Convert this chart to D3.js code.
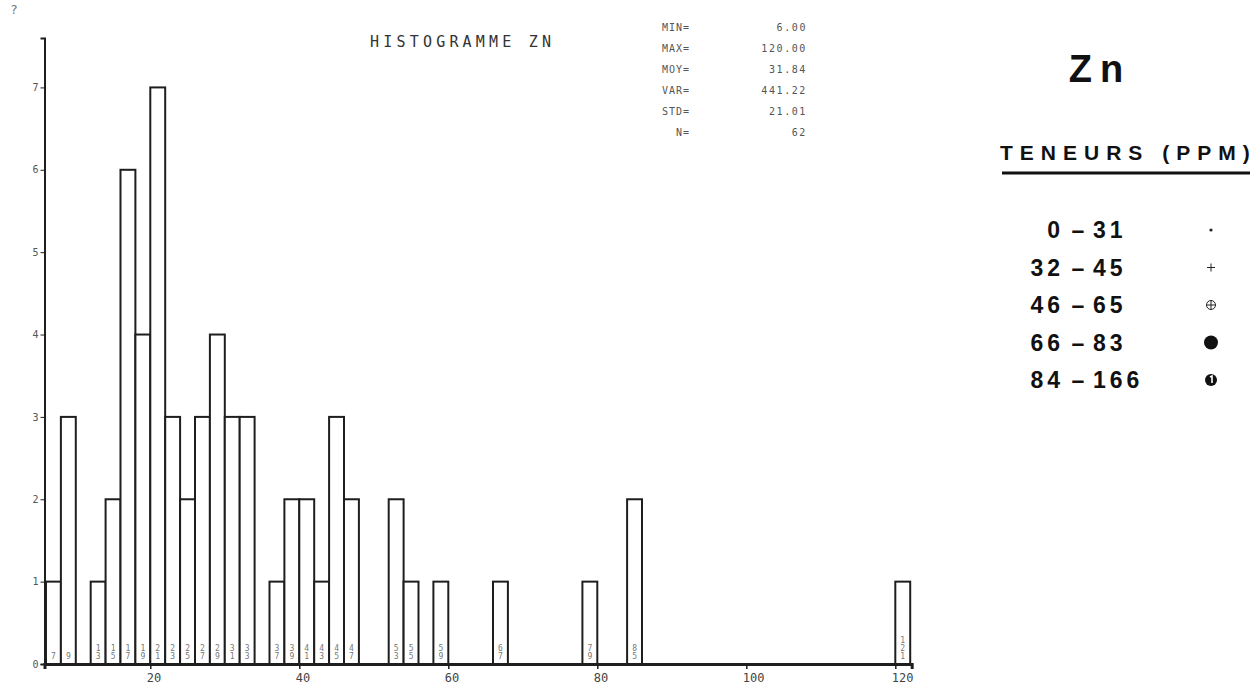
<!DOCTYPE html>
<html>
<head>
<meta charset="utf-8">
<script src="https://cdn.jsdelivr.net/npm/d3@7"></script>
<style>
  body { margin: 0; background: #fff; }
  svg { display: block; }
</style>
</head>
<body>
<div id="chart"></div>
<script>
// Histogram of Zn values (bins of width 2), only non-empty bins listed
var binLow = [6, 8, 12, 14, 16, 18, 20, 22, 24, 26, 28, 30, 32, 36, 38, 40, 42, 44, 46, 52, 54, 58, 66, 78, 84, 120];
var binCount = [1, 3, 1, 2, 6, 4, 7, 3, 2, 3, 4, 3, 3, 1, 2, 2, 1, 3, 2, 2, 1, 1, 1, 1, 2, 1];
var binWidth = 2;

var xTicks = [20, 40, 60, 80, 100, 120];
var yTicks = [0, 1, 2, 3, 4, 5, 6, 7];

var statNames = ["MIN=", "MAX=", "MOY=", "VAR=", "STD=", "N="];
var statValues = ["6.00", "120.00", "31.84", "441.22", "21.01", "62"];

var legendLow = [0, 32, 46, 66, 84];
var legendHigh = [31, 45, 65, 83, 166];
var legendSymbol = ["dot", "plus", "circleplus", "disc", "discmark"];

var svgWidth = 1260;
var svgHeight = 687;

var svg = d3.select("#chart")
  .append("svg")
  .attr("width", svgWidth)
  .attr("height", svgHeight)
  .style("background", "#fff");

var ink = "#1e1e1e";
var mono = "'DejaVu Sans Mono', 'Liberation Mono', monospace";

// scales
var x = d3.scaleLinear().domain([5.8, 122.2]).range([44.5, 911.7]);
var y = d3.scaleLinear().domain([0, 7.6]).range([664, 38]);

// bars
var bars = svg.append("g");
bars.selectAll("rect")
  .data(binLow)
  .enter()
  .append("rect")
  .attr("x", d => x(d))
  .attr("width", d => x(d + binWidth) - x(d))
  .attr("y", (d, i) => y(binCount[i]))
  .attr("height", (d, i) => y(0) - y(binCount[i]))
  .attr("fill", "#fff")
  .attr("stroke", ink)
  .attr("stroke-width", 2);

// small stacked labels in the bars (bin centres)
var barText = bars.selectAll(".binLab")
  .data(binLow)
  .enter()
  .append("text")
  .attr("class", "binLab")
  .attr("font-family", mono)
  .attr("font-size", "8px")
  .attr("fill", "#777")
  .attr("text-anchor", "middle");

barText.each(function(d) {
  var s = String(d + binWidth / 2);
  var t = d3.select(this);
  var cx = x(d + binWidth / 2);
  for (var k = 0; k < s.length; k++) {
    t.append("tspan")
      .attr("x", cx)
      .attr("y", 659 - (s.length - 1 - k) * 8)
      .text(s[k]);
  }
});

// x axis
var bottomAxis = d3.axisBottom(x)
  .tickValues(xTicks)
  .tickSize(5)
  .tickFormat(d3.format("d"));

var xg = svg.append("g")
  .attr("transform", `translate(0, ${y(0)})`)
  .call(bottomAxis);
xg.select(".domain").attr("stroke", ink).attr("stroke-width", 3);
xg.selectAll(".tick line").attr("stroke", ink).attr("stroke-width", 1.5);
xg.selectAll(".tick text")
  .attr("font-family", mono)
  .attr("font-size", "12px")
  .attr("fill", "#444")
  .attr("text-anchor", "start")
  .attr("dx", "-4")
  .attr("dy", "0.8em");

// y axis
var leftAxis = d3.axisLeft(y)
  .tickValues(yTicks)
  .tickSize(4)
  .tickPadding(2)
  .tickFormat(d3.format("d"));

var yg = svg.append("g")
  .attr("transform", `translate(${x(5.8)}, 0)`)
  .call(leftAxis);
yg.select(".domain").attr("stroke", ink).attr("stroke-width", 2);
yg.selectAll(".tick line").attr("stroke", ink).attr("stroke-width", 1);
yg.selectAll(".tick text")
  .attr("font-family", mono)
  .attr("font-size", "10px")
  .attr("fill", "#555");

// stray mark top left
svg.append("text")
  .attr("x", 10).attr("y", 14)
  .attr("font-family", mono)
  .attr("font-size", "13px")
  .attr("fill", "#777")
  .text("?");

// title
svg.append("text")
  .attr("x", 370)
  .attr("y", 47)
  .attr("font-family", mono)
  .attr("font-size", "15px")
  .attr("letter-spacing", "4.2px")
  .attr("fill", "#333")
  .text("HISTOGRAMME ZN");

// statistics block
var stats = svg.append("g");
stats.selectAll(".sname")
  .data(statNames)
  .enter()
  .append("text")
  .attr("x", 690)
  .attr("y", (d, i) => 31 + i * 21)
  .attr("text-anchor", "end")
  .attr("font-family", mono)
  .attr("font-size", "10px")
  .attr("letter-spacing", "1px")
  .attr("fill", "#555")
  .text(d => d);

stats.selectAll(".sval")
  .data(statValues)
  .enter()
  .append("text")
  .attr("x", 807)
  .attr("y", (d, i) => 31 + i * 21)
  .attr("text-anchor", "end")
  .attr("font-family", mono)
  .attr("font-size", "10px")
  .attr("letter-spacing", "1.6px")
  .attr("fill", "#555")
  .text(d => d);

// legend
var sans = "'Liberation Sans', Arial, sans-serif";

svg.append("text")
  .attr("x", 1100)
  .attr("y", 82)
  .attr("text-anchor", "middle")
  .attr("font-family", sans)
  .attr("font-weight", "bold")
  .attr("font-size", "38px")
  .attr("letter-spacing", "8px")
  .attr("fill", "#111")
  .text("Zn");

svg.append("text")
  .attr("x", 1000)
  .attr("y", 160)
  .attr("font-family", sans)
  .attr("font-weight", "bold")
  .attr("font-size", "21px")
  .attr("letter-spacing", "7px")
  .attr("fill", "#111")
  .text("TENEURS (PPM)");

svg.append("line")
  .attr("x1", 1002).attr("x2", 1250)
  .attr("y1", 173).attr("y2", 173)
  .attr("stroke", "#111")
  .attr("stroke-width", 3);

var rowY = d3.scalePoint().domain(d3.range(legendLow.length)).range([238, 388]);

var rows = svg.append("g").selectAll("g")
  .data(legendLow)
  .enter()
  .append("g")
  .attr("transform", (d, i) => `translate(0, ${rowY(i)})`);

rows.append("text")
  .attr("x", 1064)
  .attr("text-anchor", "end")
  .attr("font-family", sans)
  .attr("font-weight", "bold")
  .attr("font-size", "23px")
  .attr("letter-spacing", "4px")
  .attr("fill", "#111")
  .text(d => d);

rows.append("text")
  .attr("x", 1078)
  .attr("text-anchor", "middle")
  .attr("font-family", sans)
  .attr("font-weight", "bold")
  .attr("font-size", "23px")
  .attr("fill", "#111")
  .text("\u2013");

rows.append("text")
  .attr("x", 1093)
  .attr("font-family", sans)
  .attr("font-weight", "bold")
  .attr("font-size", "23px")
  .attr("letter-spacing", "4px")
  .attr("fill", "#111")
  .text((d, i) => legendHigh[i]);

rows.each(function(d, i) {
  var g = d3.select(this).append("g").attr("transform", "translate(1211, -8)");
  var s = legendSymbol[i];
  if (s === "dot") {
    g.append("circle").attr("r", 1.6).attr("fill", "#222");
  } else if (s === "plus") {
    g.append("path").attr("d", "M-4,0H4M0,-4V4").attr("stroke", "#222").attr("stroke-width", 1);
  } else if (s === "circleplus") {
    g.append("circle").attr("r", 4.5).attr("fill", "none").attr("stroke", "#222").attr("stroke-width", 1);
    g.append("path").attr("d", "M-4.5,0H4.5M0,-4.5V4.5").attr("stroke", "#222").attr("stroke-width", 1);
  } else if (s === "disc") {
    g.append("circle").attr("r", 7).attr("fill", "#111");
  } else {
    g.append("circle").attr("r", 6).attr("fill", "#111");
    g.append("path").attr("d", "M-1,-3L1,-4V3").attr("stroke", "#fff").attr("stroke-width", 1.6).attr("fill", "none");
  }
});
</script>
</body>
</html>
